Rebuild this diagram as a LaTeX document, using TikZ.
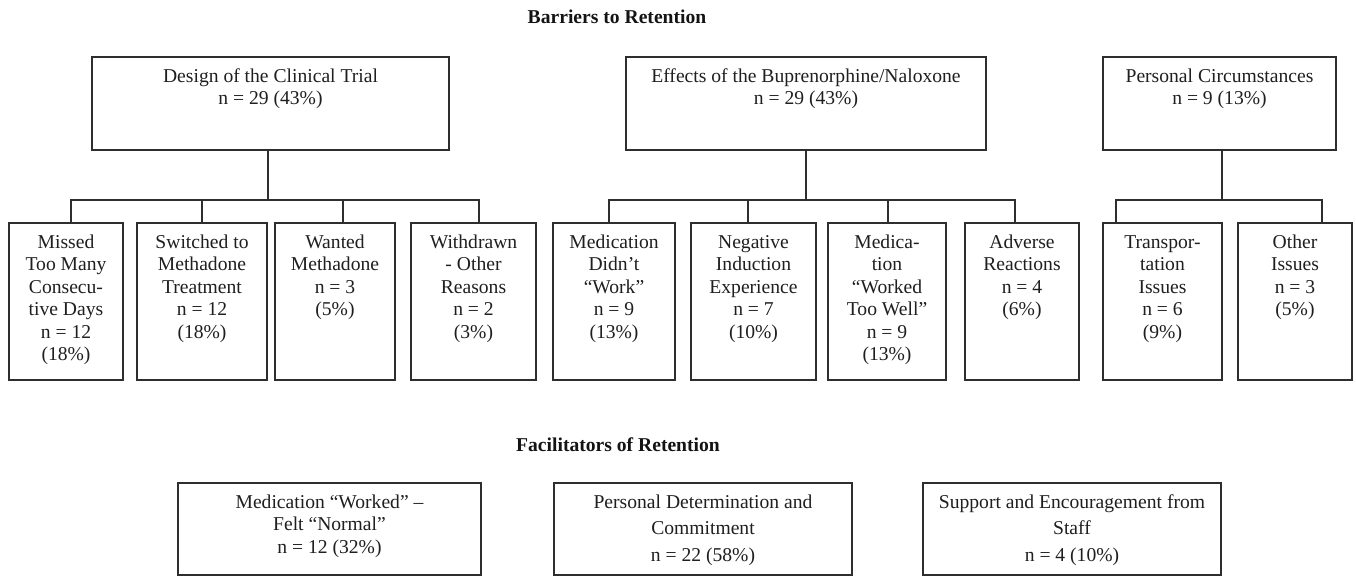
\documentclass[tikz,border=0pt]{standalone}
\usepackage{fontspec}
\setmainfont{Liberation Serif}
\usetikzlibrary{calc}
\newcommand\mkbox[5]{\node[box, minimum width={(#4-#2)*0.5pt}, minimum height={(#5-#3)*0.5pt}] (#1) at ({(#2+#4)/2},{(#3+#5)/2}) {};}
\newcommand\mktxt[3]{\node[#3, anchor=north] (#1t) at ([yshift=-5.1pt]#1.north) {\strut #2};}
\begin{document}
\begin{tikzpicture}[x=0.5pt,y=-0.5pt,
  box/.style={draw=black!82, line width=0.9pt, inner sep=0pt, fill=white},
  txt/.style={inner sep=0pt, align=center, text=black!88, font=\fontsize{9.8}{11.25}\selectfont},
  txtb/.style={inner sep=0pt, align=center, text=black!88, font=\fontsize{9.8}{11.25}\selectfont},
  ttl/.style={inner sep=0pt, text=black!92, font=\fontsize{9.8}{11.25}\selectfont\bfseries},
  link/.style={draw=black!82, line width=0.9pt}]
\useasboundingbox (0,0) rectangle (1356,576);

% titles
\node[ttl] (tb) at (617,17) {Barriers to Retention};
\node[ttl] (tf) at (618,445) {Facilitators of Retention};

% top boxes
\mkbox{d1}{92}{57}{449}{150}
\mkbox{d2}{626}{57}{986}{150}
\mkbox{d3}{1103}{57}{1336}{150}
\mktxt{d1}{Design of the Clinical Trial\\n = 29 (43\%)}{txt}
\mktxt{d2}{Effects of the Buprenorphine/Naloxone\\n = 29 (43\%)}{txt}
\mktxt{d3}{Personal Circumstances\\n = 9 (13\%)}{txt}

% child boxes
\mkbox{c1}{9}{223}{123}{380}
\mkbox{c2}{137}{223}{267}{380}
\mkbox{c3}{275}{223}{395}{380}
\mkbox{c4}{411}{223}{536}{380}
\mkbox{c5}{553}{223}{675}{380}
\mkbox{c6}{691}{223}{816}{380}
\mkbox{c7}{828}{223}{946}{380}
\mkbox{c8}{965}{223}{1079}{380}
\mkbox{c9}{1103}{223}{1222}{380}
\mkbox{c10}{1238}{223}{1352}{380}
\mktxt{c1}{Missed\\Too Many\\Consecu-\\tive Days\\n = 12\\(18\%)}{txt}
\mktxt{c2}{Switched to\\Methadone\\Treatment\\n = 12\\(18\%)}{txt}
\mktxt{c3}{Wanted\\Methadone\\n = 3\\(5\%)}{txt}
\mktxt{c4}{Withdrawn\\- Other\\Reasons\\n = 2\\(3\%)}{txt}
\mktxt{c5}{Medication\\Didn’t\\“Work”\\n = 9\\(13\%)}{txt}
\mktxt{c6}{Negative\\Induction\\Experience\\n = 7\\(10\%)}{txt}
\mktxt{c7}{Medica-\\tion\\“Worked\\Too Well”\\n = 9\\(13\%)}{txt}
\mktxt{c8}{Adverse\\Reactions\\n = 4\\(6\%)}{txt}
\mktxt{c9}{Transpor-\\tation\\Issues\\n = 6\\(9\%)}{txt}
\mktxt{c10}{Other\\Issues\\n = 3\\(5\%)}{txt}

% connectors
\coordinate (s1) at ([xshift=-1.25pt]d1.south);
\coordinate (s3) at ([xshift=1.25pt]d3.south);
\coordinate (j1) at ($(s1)+(0,49)$);
\coordinate (j2) at ($(d2.south)+(0,49)$);
\coordinate (j3) at ($(s3)+(0,49)$);
\draw[link] (s1) -- (j1);
\draw[link] (d2.south) -- (j2);
\draw[link] (s3) -- (j3);
\foreach \c/\dx in {c1/5,c2/0,c3/8,c4/5.5}
  \draw[link] ([xshift=\dx*0.5pt]\c.north) |- (j1);
\foreach \c/\dx in {c5/-5,c6/-5.5,c7/1,c8/-7}
  \draw[link] ([xshift=\dx*0.5pt]\c.north) |- (j2);
\foreach \c/\dx in {c9/-46.5,c10/27}
  \draw[link] ([xshift=\dx*0.5pt]\c.north) |- (j3);

% facilitator boxes
\mkbox{f1}{178}{483}{481}{575}
\mkbox{f2}{554}{483}{852}{575}
\mkbox{f3}{923}{483}{1221}{575}
\mktxt{f1}{Medication “Worked” –\\Felt “Normal”\\n = 12 (32\%)}{txt}
\node[txtb, anchor=north] (f2t) at ([yshift=-5.1pt]f2.north) {\strut Personal Determination and\\[2pt]Commitment\\[2pt]n = 22 (58\%)};
\node[txtb, anchor=north] (f3t) at ([yshift=-5.1pt]f3.north) {\strut Support and Encouragement from\\[2pt]Staff\\[2pt]n = 4 (10\%)};
\end{tikzpicture}
\end{document}
